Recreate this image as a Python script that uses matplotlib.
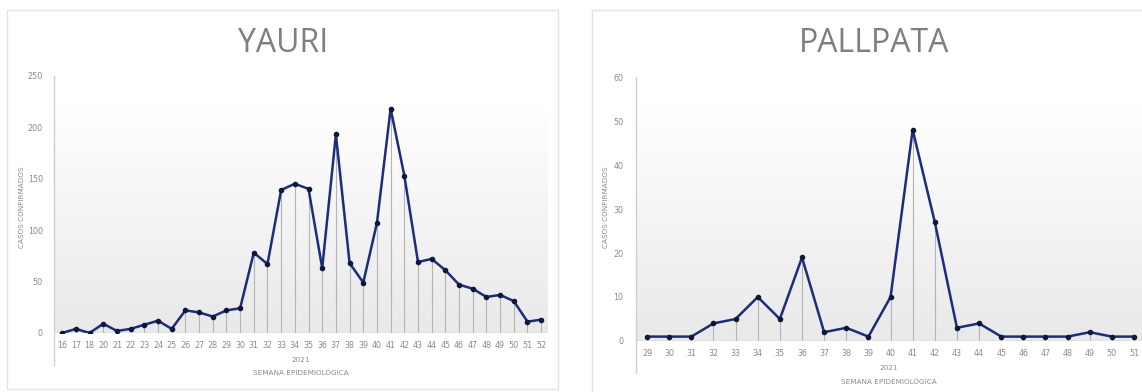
import numpy as np
import matplotlib
matplotlib.use("Agg")
import matplotlib.pyplot as plt
from matplotlib.colors import LinearSegmentedColormap
from matplotlib.patches import Rectangle

# --- data -------------------------------------------------------------
yauri_weeks = ["16", "17", "18", "20", "21", "22", "23", "24", "25", "26",
               "27", "28", "29", "30", "31", "32", "33", "34", "35", "36",
               "37", "38", "39", "40", "41", "42", "43", "44", "45", "46",
               "47", "48", "49", "50", "51", "52"]
yauri_cases = [0, 4, 0, 9, 2, 4, 8, 12, 4, 22,
               20, 16, 22, 24, 78, 67, 139, 145, 140, 63,
               193, 68, 49, 107, 218, 153, 69, 72, 61, 47,
               43, 35, 37, 31, 11, 13]

pallpata_weeks = ["29", "30", "31", "32", "33", "34", "35", "36", "37", "38",
                  "39", "40", "41", "42", "43", "44", "45", "46", "47", "48",
                  "49", "50", "51"]
pallpata_cases = [1, 1, 1, 4, 5, 10, 5, 19, 2, 3,
                  1, 10, 48, 27, 3, 4, 1, 1, 1, 1,
                  2, 1, 1]

yauri_yticks = [0, 50, 100, 150, 200, 250]
pallpata_yticks = [0, 10, 20, 30, 40, 50, 60]

YEAR = "2021"
X_TITLE = "SEMANA EPIDEMIOLÓGICA"
Y_TITLE = "CASOS CONFIRMADOS"

# --- figure -------------------------------------------------------------
W, H = 1142, 392
fig = plt.figure(figsize=(W / 100, H / 100), dpi=100)
fig.patch.set_facecolor("white")

LINE = "#1c2c7e"
MARK = "#101838"
TXT = "#8a8a8a"
grad_cmap = LinearSegmentedColormap.from_list("bg", ["#e9e9e9", "#ffffff"])


def px_rect(l, t, r, b):
    return [l / W, 1 - b / H, (r - l) / W, (b - t) / H]


def card(l, t, r, b):
    fig.patches.append(Rectangle((l / W, 1 - b / H), (r - l) / W, (b - t) / H,
                                 transform=fig.transFigure, fill=False,
                                 edgecolor="#e4e4e4", linewidth=1.0))


def panel(rect, xlim, labels, values, yticks, title, title_xy, ytitle_x,
          ypad, xpad, axis_tail, xlabel_y, year_y):
    left_px, top_px, right_px, bottom_px = rect
    ax = fig.add_axes(px_rect(*rect))
    x = np.arange(len(values))
    ymax = yticks[-1]

    # gradient plot background
    grad = np.linspace(0, 1, 256).reshape(-1, 1)
    ax.imshow(grad, extent=[xlim[0], xlim[1], 0, ymax * 0.885], origin="lower",
              aspect="auto", cmap=grad_cmap, zorder=0)
    ax.set_xlim(*xlim)
    ax.set_ylim(0, ymax)

    # drop lines, baseline and series
    ax.vlines(x, 0, values, colors="#b4b4b4", linewidth=0.8, zorder=1)
    ax.axhline(0, color="#c4c4c4", linewidth=1.0, zorder=1)
    ax.plot(x, values, color=LINE, linewidth=1.8, zorder=3,
            marker="o", markersize=3.0, markerfacecolor=MARK,
            markeredgecolor=MARK)

    for s in ax.spines.values():
        s.set_visible(False)
    ax.plot([0, 0], [1, -axis_tail], transform=ax.transAxes, color="#cfcfcf",
            linewidth=1.0, clip_on=False, zorder=2)

    ax.set_xticks(x)
    ax.set_xticklabels(labels)
    ax.set_yticks(yticks)
    ax.tick_params(axis="both", length=0, labelsize=5.8, colors=TXT)
    ax.tick_params(axis="y", pad=ypad)
    ax.tick_params(axis="x", pad=xpad)

    cx = (left_px + right_px) / 2
    fig.text(cx / W, 1 - year_y / H, YEAR, ha="center", va="center",
             fontsize=5.2, color=TXT)
    fig.text(cx / W, 1 - xlabel_y / H, X_TITLE, ha="center", va="center",
             fontsize=5.2, color=TXT)
    fig.text(ytitle_x / W, 1 - 207 / H, Y_TITLE, ha="center", va="center",
             rotation=90, fontsize=5.2, color=TXT)
    fig.text(title_xy[0] / W, 1 - title_xy[1] / H, title, ha="center",
             va="center", fontsize=23, color="#7f7f7f", family="Open Sans")
    return ax


card(7, 10, 558, 389)
card(592, 10, 1160, 400)

panel((54, 75.7, 548, 333), (-0.6, 35.5), yauri_weeks, yauri_cases,
      yauri_yticks, "YAURI", (283, 44), 22, ypad=8, xpad=6, axis_tail=0.125,
      xlabel_y=373, year_y=360)
panel((636, 77, 1142, 341), (-0.5, 22.36), pallpata_weeks, pallpata_cases,
      pallpata_yticks, "PALLPATA", (874, 44), 606, ypad=9, xpad=6,
      axis_tail=0.12, xlabel_y=382, year_y=368)

fig.savefig("out.png", dpi=100)
